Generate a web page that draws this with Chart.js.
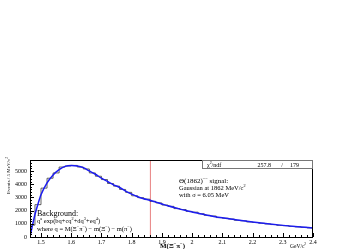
<!DOCTYPE html>
<html lang="en">
<head>
  <meta charset="UTF-8">
  <title>Theta(1862) search</title>
  <style>
    html, body { margin: 0; padding: 0; background: #fff; }
    #wrap { width: 343px; height: 249px; }
  </style>
  <script src="https://cdn.jsdelivr.net/npm/chart.js"></script>
</head>
<body>
<div id="wrap"><canvas id="chart" width="343" height="249"></canvas></div>
<script>
  // Histogram: bin centres (GeV/c^2) and entries per bin
  const histX = [1.47, 1.49, 1.51, 1.53, 1.55, 1.57, 1.59, 1.61, 1.63, 1.65,
                 1.67, 1.69, 1.71, 1.73, 1.75, 1.77, 1.79, 1.81, 1.83, 1.85,
                 1.87, 1.89, 1.91, 1.93, 1.95, 1.97, 1.99, 2.01, 2.03, 2.05,
                 2.07, 2.09, 2.11, 2.13, 2.15, 2.17, 2.19, 2.21, 2.23, 2.25,
                 2.27, 2.29, 2.31, 2.33, 2.35, 2.37, 2.39];
  const histY = [900, 2450, 3700, 4450, 4850, 5300, 5380, 5420, 5300, 5150,
                 4850, 4600, 4350, 4050, 3850, 3600, 3380, 3120, 2980, 2870,
                 2700, 2580, 2420, 2320, 2150, 2080, 1940, 1880, 1760, 1640,
                 1590, 1470, 1420, 1360, 1260, 1230, 1140, 1100, 1040, 990,
                 940, 880, 860, 800, 770, 730, 690];

  // Fitted background curve
  const fitX = [1.4636, 1.47, 1.48, 1.49, 1.50, 1.52, 1.54, 1.56, 1.58, 1.60,
                1.62, 1.64, 1.66, 1.68, 1.70, 1.72, 1.74, 1.76, 1.78, 1.80,
                1.82, 1.84, 1.86, 1.88, 1.90, 1.92, 1.94, 1.96, 1.98, 2.00,
                2.05, 2.10, 2.15, 2.20, 2.25, 2.30, 2.35, 2.40];
  const fitY = [0, 700, 1700, 2500, 3200, 4100, 4700, 5100, 5350, 5420,
                5380, 5250, 5000, 4750, 4450, 4200, 3950, 3750, 3480, 3250,
                3050, 2900, 2780, 2640, 2500, 2360, 2230, 2110, 2000, 1900,
                1650, 1450, 1280, 1130, 1000, 880, 780, 690];

  const signalMass = 1.862;
  const xTickLabels = ['1.5', '1.6', '1.7', '1.8', '1.9', '2', '2.1', '2.2', '2.3', '2.4'];
  const yTickLabels = ['0', '1000', '2000', '3000', '4000', '5000'];
  const chiSq = '257.8';
  const ndf = '179';

  const xMin = 1.4636, xMax = 2.4, yMax = 5830;
  const serif = '"Liberation Serif", "DejaVu Serif", serif';

  // histogram drawn as steps, with outer bin edges added
  const halfBin = (histX[1] - histX[0]) / 2;
  const histPts = histX.map((x, i) => ({ x: x, y: histY[i] }));
  histPts.unshift({ x: xMin, y: histY[0] });
  histPts.push({ x: histX[histX.length - 1] + halfBin, y: histY[histY.length - 1] });
  const fitPts = fitX.map((x, i) => ({ x: x, y: fitY[i] }));

  // text with superscripts: parts = [[text, isSup], ...]
  function drawRich(ctx, parts, x, y, size, weight) {
    parts.forEach(([t, sup]) => {
      const s = sup ? size * 0.65 : size;
      ctx.font = (weight || '') + ' ' + s + 'px ' + serif;
      ctx.fillText(t, x, sup ? y - size * 0.4 : y);
      x += ctx.measureText(t).width;
    });
  }

  // ROOT-like frame, ticks, labels and notes
  const rootFrame = {
    id: 'rootFrame',
    afterDraw(chart) {
      const ctx = chart.ctx;
      const a = chart.chartArea;
      const xs = chart.scales.x, ys = chart.scales.y;
      ctx.save();
      ctx.strokeStyle = '#000';
      ctx.fillStyle = '#000';
      ctx.lineWidth = 1;
      ctx.strokeRect(a.left + 0.5, a.top + 0.5, a.right - a.left - 1, a.bottom - a.top);

      // x ticks
      ctx.beginPath();
      for (let v = 1.48; v <= xMax + 1e-6; v += 0.02) {
        const px = Math.round(xs.getPixelForValue(v)) + 0.5;
        const major = Math.abs(v * 10 - Math.round(v * 10)) < 1e-6;
        ctx.moveTo(px, a.bottom);
        ctx.lineTo(px, a.bottom - (major ? 4 : 2));
      }
      // y ticks
      for (let v = 0; v <= yMax; v += 200) {
        const py = Math.round(ys.getPixelForValue(v)) + 0.5;
        const major = v % 1000 === 0;
        ctx.moveTo(a.left, py);
        ctx.lineTo(a.left + (major ? 4 : 2), py);
      }
      ctx.stroke();

      ctx.font = '6px ' + serif;
      ctx.textAlign = 'center';
      ctx.textBaseline = 'alphabetic';
      xTickLabels.forEach(l => {
        ctx.fillText(l, xs.getPixelForValue(parseFloat(l)), a.bottom + 7);
      });
      ctx.textAlign = 'right';
      ctx.textBaseline = 'middle';
      yTickLabels.forEach(l => {
        ctx.fillText(l, a.left - 3, ys.getPixelForValue(parseFloat(l)));
      });

      // y axis title
      ctx.save();
      ctx.translate(9, a.top);
      ctx.rotate(-Math.PI / 2);
      ctx.textAlign = 'left';
      ctx.textBaseline = 'middle';
      ctx.translate(-34, 0);
      drawRich(ctx, [['Events / 5 MeV/c'], ['2', true]], 0, 0, 5);
      ctx.restore();

      // x axis title
      ctx.textAlign = 'left';
      ctx.textBaseline = 'alphabetic';
      drawRich(ctx, [['M(Ξ', false], ['−', true], ['π', false], ['−', true], [')', false]], 160, 247.5, 7, 'bold');
      drawRich(ctx, [['GeV/c'], ['2', true]], 290, 247.5, 5.5);

      // fit statistics box
      ctx.fillStyle = '#fff';
      ctx.fillRect(202, a.top, a.right - 202, 8);
      ctx.strokeStyle = '#777';
      ctx.strokeRect(202.5, a.top + 0.5, a.right - 203, 8);
      ctx.fillStyle = '#000';
      drawRich(ctx, [['χ'], ['2', true], ['/ndf']], 207, a.top + 6.5, 6);
      ctx.font = '6px ' + serif;
      ctx.textAlign = 'right';
      ctx.fillText(chiSq, 271, a.top + 6.5);
      ctx.fillText('/', 283, a.top + 6.5);
      ctx.fillText(ndf, 299, a.top + 6.5);
      ctx.textAlign = 'left';

      // signal description
      drawRich(ctx, [['Θ(1862)'], ['−−', true], [' signal:']], 179, 183, 7);
      drawRich(ctx, [['Gaussian at 1862 MeV/c'], ['2', true]], 179, 190, 6.5);
      drawRich(ctx, [['with σ = 6.05 MeV']], 179, 197, 6.5);

      // background description
      drawRich(ctx, [['Background:']], 37, 216, 8);
      drawRich(ctx, [['q'], ['a', true], [' exp(bq+cq'], ['2', true], ['+dq'], ['3', true],
                     ['+eq'], ['4', true], [')']], 37, 223, 6.5);
      drawRich(ctx, [['where q = M(Ξ'], ['−', true], ['π'], ['−', true], [') − m(Ξ'], ['−', true],
                     [') − m(π'], ['−', true], [')']], 37, 230.5, 6.5);
      ctx.restore();
    }
  };

  new Chart(document.getElementById('chart').getContext('2d'), {
    type: 'line',
    data: {
      datasets: [
        { data: [{ x: signalMass, y: 0 }, { x: signalMass, y: yMax }], borderColor: '#e88080',
          borderWidth: 1, pointRadius: 0, order: 3 },
        { data: histPts, borderColor: '#222', borderWidth: 0.7, stepped: 'middle',
          pointRadius: 0, order: 2 },
        { data: fitPts, borderColor: '#1c1cf0', borderWidth: 1.5, pointRadius: 0,
          cubicInterpolationMode: 'monotone', order: 1 }
      ]
    },
    options: {
      responsive: false,
      animation: false,
      layout: { padding: { left: 30, top: 160, right: 30, bottom: 12 } },
      plugins: { legend: { display: false }, tooltip: { enabled: false } },
      scales: {
        x: { type: 'linear', display: false, min: xMin, max: xMax },
        y: { display: false, min: 0, max: yMax }
      }
    },
    plugins: [rootFrame]
  });
</script>
</body>
</html>
